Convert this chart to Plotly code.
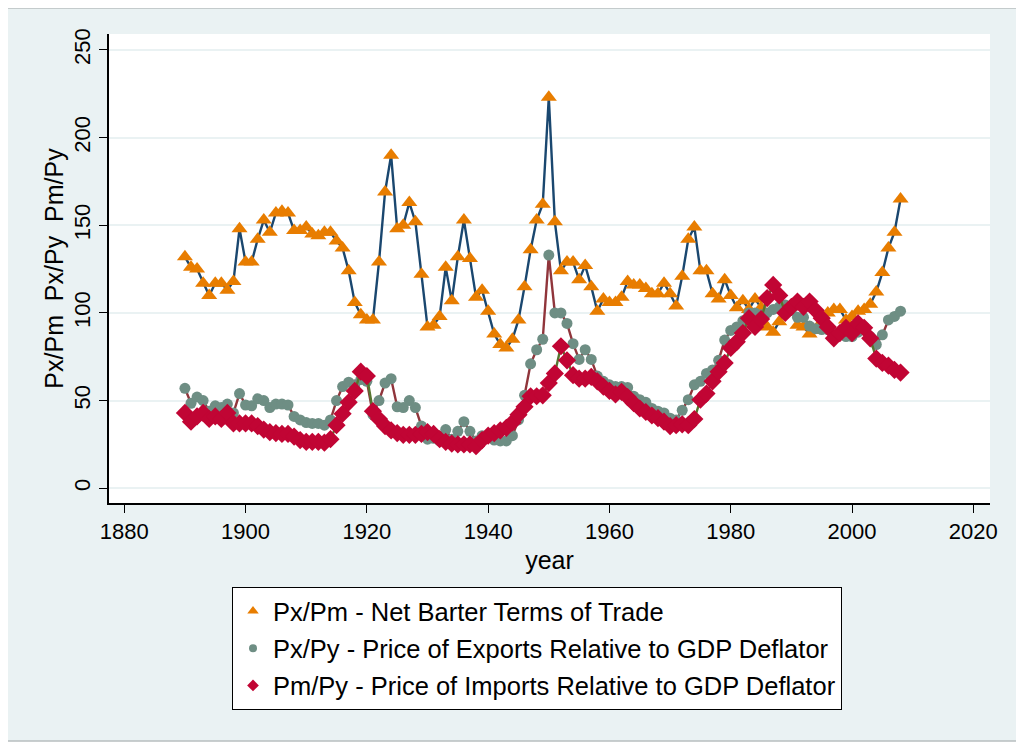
import plotly.graph_objects as go

years = list(range(1890, 2009))

px_pm = [132, 126, 125, 117, 110, 117, 117, 113, 118, 148,
         129, 129, 142, 153, 146, 157, 158, 157, 147, 147,
         149, 145, 144, 146, 146, 141, 137, 124, 106, 99,
         96, 96, 129, 169, 190, 148, 150, 163, 152, 122,
         92, 93, 98, 126, 107, 132, 153, 131, 109, 113,
         101, 88, 82, 80, 85, 96, 115, 136, 153, 162,
         223, 152, 124, 129, 129, 119, 127, 115, 101, 108,
         106, 106, 109, 118, 116, 116, 114, 111, 111, 117,
         111, 104, 121, 142, 149, 124, 124, 111, 108, 119,
         110, 103, 107, 102, 108, 103, 92, 89, 95, 102,
         104, 93, 92, 88, 90, 95, 100, 102, 102, 96,
         98, 101, 102, 105, 112, 123, 137, 146, 165]

px_py = [57, 48.5, 52, 50, 44, 47, 46, 48, 43, 54,
         47.5, 47, 51, 50, 46, 48, 48, 47.5, 41, 39,
         37.5, 37, 37, 36, 39, 50, 58, 60.5, 59, 62,
         61, 42, 50, 60, 62.5, 46.5, 46, 50, 46, 35.5,
         28, 28.5, 27, 33.5, 28, 32.5, 38, 32.5, 27, 30,
         30, 27.5, 27, 27, 30, 39, 53, 71, 79, 85,
         133, 100, 100, 94, 82.5, 73.5, 79, 73.5, 64, 61,
         59, 58, 58, 57.5, 52.5, 50.5, 49, 45.5, 44, 43,
         40, 39, 44.5, 50.5, 59, 61, 65.5, 67.5, 73, 84.5,
         90, 92, 95.5, 100, 100, 99, 100, 102, 103.5, 104.5,
         101.5, 97.5, 97.5, 92.5, 91, 90.5, 90.5, 88.5, 88, 86.5,
         86.5, 89, 92, 86.5, 82, 87.5, 96, 98, 101]

pm_py = [43, 38, 41, 43, 39.5, 41, 39.5, 43, 37, 37,
         37, 37, 35.5, 33.5, 32, 31.5, 31, 31, 29.5, 27.5,
         26.5, 26.5, 26.5, 26, 28, 36, 42.5, 49, 55.5, 66.5,
         64, 44, 39.5, 35.5, 33, 31.5, 30.5, 30.5, 30.5, 31,
         32, 31, 28, 26.5, 25.5, 25, 25, 25, 24, 27.5,
         30, 31.5, 33, 34.5, 37.5, 42, 46.5, 52.5, 52.5, 53,
         60, 65.5, 81, 73, 64.5, 62.5, 62.5, 63.5, 61, 58,
         55.5, 53.5, 55, 52, 48.5, 45.5, 43.5, 41.5, 40, 38,
         35.5, 36, 36.5, 36, 39.5, 50.5, 54, 61, 66.5, 71.5,
         80, 83.5, 88.5, 97, 92, 96.5, 108.5, 116, 110, 100,
         103.5, 106.5, 103.5, 106.5, 101.5, 97, 92, 85.5, 88.5, 91.5,
         88.5, 94, 91.5, 85.5, 74, 71.5, 70, 67.5, 66]

names = ["Px/Pm - Net Barter Terms of Trade",
         "Px/Py - Price of Exports Relative to GDP Deflator",
         "Pm/Py - Price of Imports Relative to GDP Deflator"]

x_ticks = [1880, 1900, 1920, 1940, 1960, 1980, 2000, 2020]
y_ticks = [0, 50, 100, 150, 200, 250]

FONT = "Liberation Sans, Arial, sans-serif"
BG = "#EAF2F3"

series = [
    (px_pm, names[0], "#1A476F", "triangle-up", 14, "#E87D00", 10),
    (px_py, names[1], "#90353B", "circle", 11, "#6E8E84", 8),
    (pm_py, names[2], "#55752F", "diamond", 14, "#C10534", 9),
]

fig = go.Figure()
for i, (vals, nm, lc, sym, sz, mc, lsz) in enumerate(series):
    fig.add_trace(go.Scatter(
        x=years, y=vals, mode="lines", showlegend=False, hoverinfo="skip",
        line=dict(color=lc, width=2.4)))
    fig.add_trace(go.Scatter(
        x=years, y=vals, mode="markers", name=nm, showlegend=False,
        marker=dict(symbol=sym, size=sz, color=mc, line=dict(width=0))))
    # legend-only entry with the small legend key
    fig.add_trace(go.Scatter(
        x=[None], y=[None], mode="markers", name=nm, legendgroup=str(i),
        marker=dict(symbol=sym, size=lsz, color=mc, line=dict(width=0))))

# page is offset by the browser's 8px body margin
OFF = 8
W, H = 1024 - OFF, 748 - OFF
L, R, T, B = 109 - OFF, 1024 - 990, 34 - OFF, 748 - 503
pw, ph = W - L - R, H - T - B

def px2x(p):
    return (p - OFF - L) / pw

def px2y(p):
    return (H - B - (p - OFF)) / ph

fig.update_layout(
    width=W, height=H,
    margin=dict(l=L, r=R, t=T, b=B, pad=0),
    paper_bgcolor="white",
    plot_bgcolor="white",
    font=dict(family=FONT, size=22, color="black"),
    showlegend=True,
    legend=dict(
        x=px2x(232), y=px2y(587), xanchor="left", yanchor="top",
        bgcolor="white", bordercolor="black", borderwidth=1,
        font=dict(family=FONT, size=25.5, color="black"),
        tracegroupgap=1, itemsizing="trace",
    ),
    shapes=[
        dict(type="rect", xref="paper", yref="paper",
             x0=px2x(4), x1=px2x(1019), y0=px2y(741), y1=px2y(8),
             fillcolor=BG, line=dict(color="#B8BEC0", width=1.5), layer="below"),
        dict(type="rect", xref="paper", yref="paper",
             x0=0, x1=1, y0=0, y1=1,
             fillcolor="white", line=dict(width=0), layer="below"),
    ],
)

fig.update_xaxes(
    range=[1877.48, 2022.75], tickvals=x_ticks, ticktext=[str(v) for v in x_ticks],
    showgrid=False, zeroline=False,
    showline=True, linecolor="black", linewidth=1.5,
    ticks="outside", ticklen=8, tickcolor="black", tickwidth=1.2,
    tickfont=dict(size=22),
    title=dict(text="year", font=dict(size=25), standoff=8),
)
fig.update_yaxes(
    range=[-8.4, 259.1], tickvals=y_ticks, ticktext=[str(v) for v in y_ticks],
    showgrid=True, gridcolor=BG, gridwidth=2, zeroline=False,
    showline=True, linecolor="black", linewidth=1.5,
    ticks="outside", ticklen=8, tickcolor="black", tickwidth=1.2,
    tickangle=-90, tickfont=dict(size=22),
    title=dict(text="Px/Pm  Px/Py  Pm/Py", font=dict(size=25), standoff=0),
)

fig.write_html("out.html")
